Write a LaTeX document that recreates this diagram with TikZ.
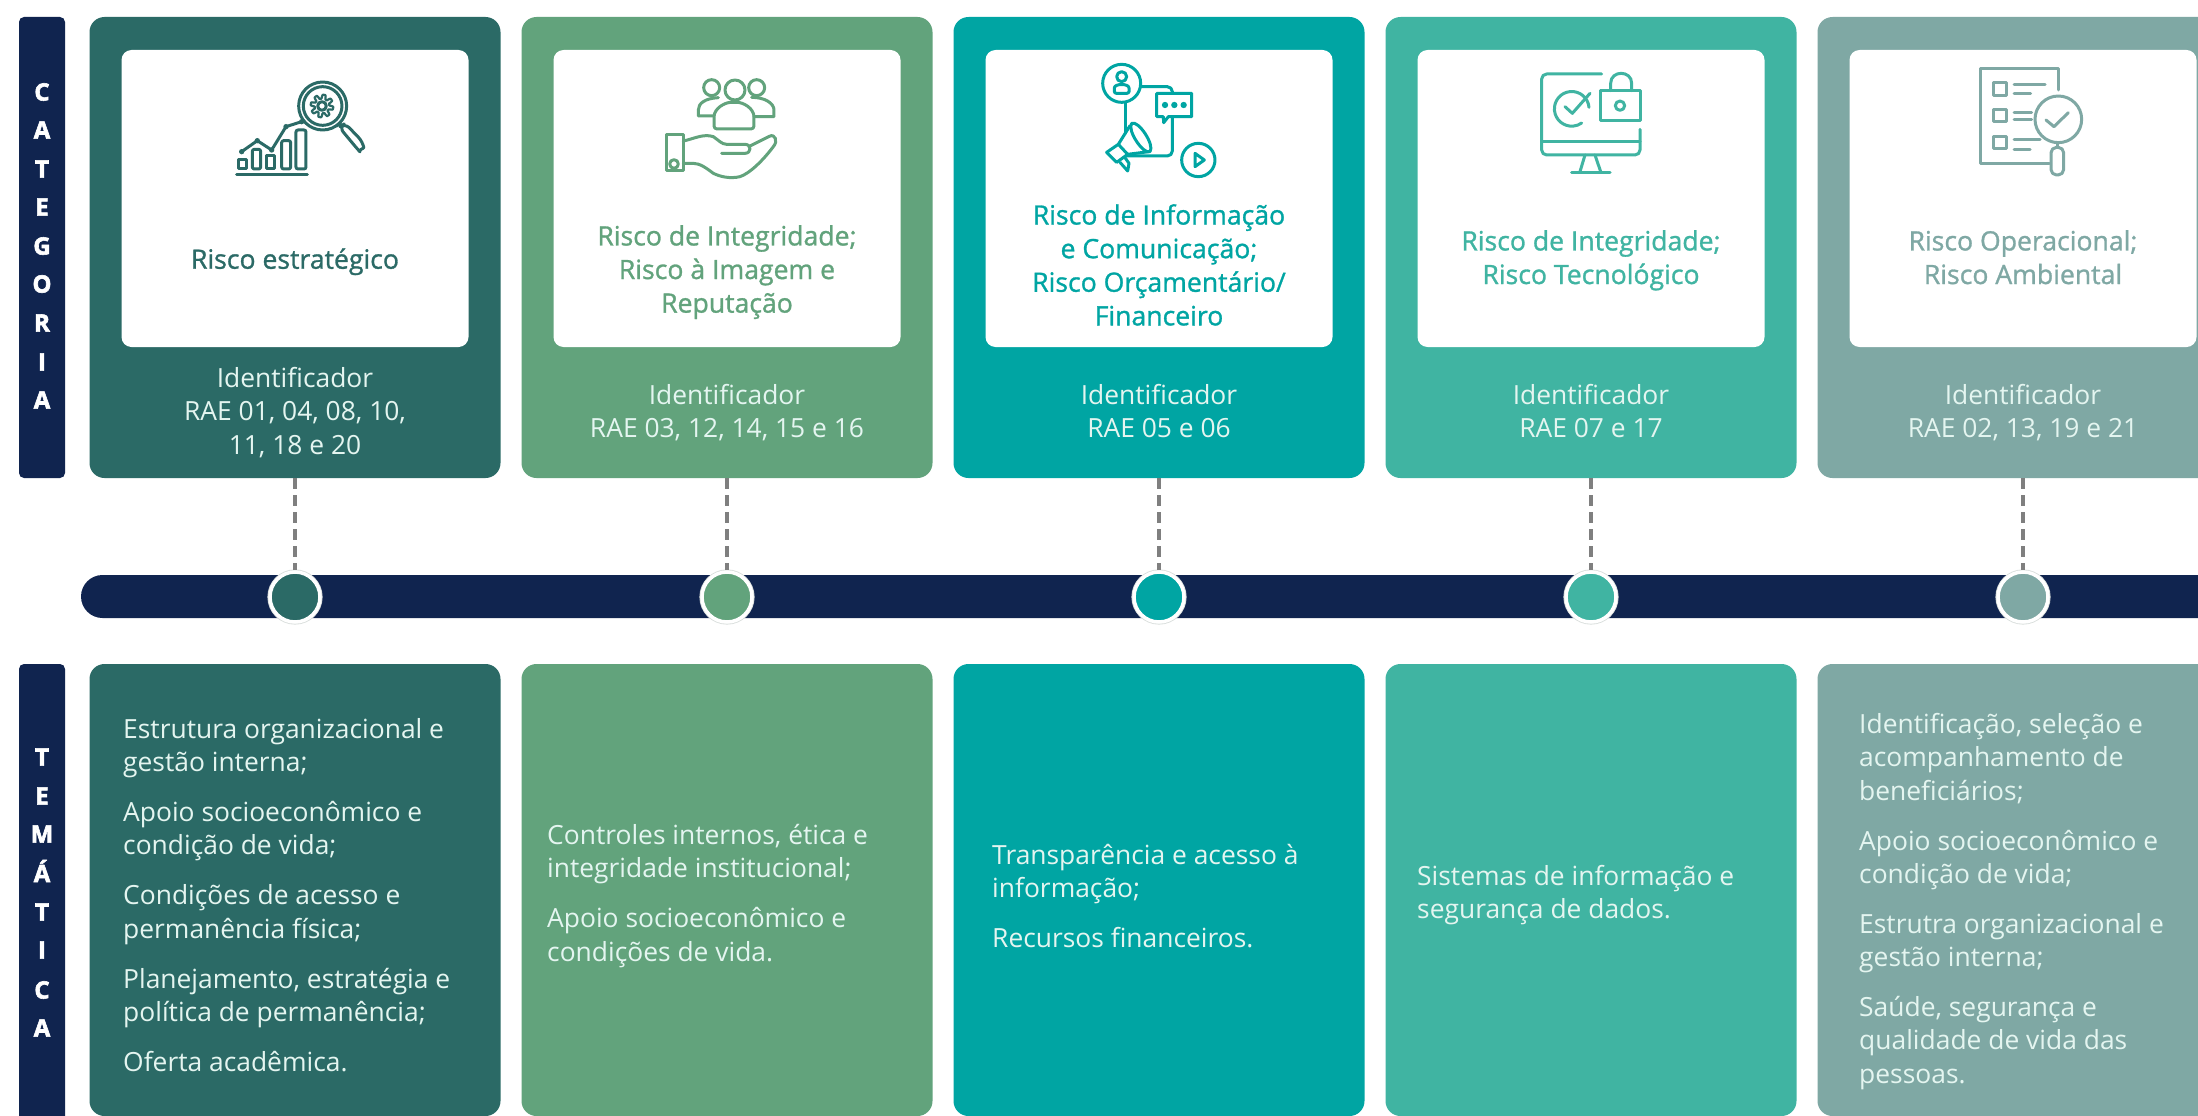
\documentclass[tikz,border=0pt]{standalone}
\usepackage{fontspec}
\setmainfont{Open Sans}
\newfontfamily\medfont[FakeBold=1.1]{Open Sans}
\newfontfamily\heavyfont[BoldFeatures={FakeBold=2.5}]{Open Sans}
\definecolor{navy}{HTML}{10244F}
\definecolor{cA}{HTML}{2B6A66}
\definecolor{cB}{HTML}{62A37C}
\definecolor{cC}{HTML}{00A5A3}
\definecolor{cD}{HTML}{40B4A2}
\definecolor{cE}{HTML}{7FA8A4}
\definecolor{pale}{HTML}{E4F5F0}
\definecolor{dashgray}{HTML}{7F7F7F}
\definecolor{ringgray}{HTML}{D9DEDC}
\tikzset{
  card/.style={rectangle,rounded corners=15pt,inner sep=0pt,minimum width=411pt},
  topcard/.style={card,minimum height=461pt},
  botcard/.style={card,minimum height=452pt},
  whitebox/.style={rectangle,rounded corners=10pt,inner sep=0pt,fill=white,minimum width=347pt,minimum height=297pt},
  sidebar/.style={rectangle,rounded corners=5pt,inner sep=0pt,fill=navy,minimum width=46pt},
  letter/.style={inner sep=0pt,text=white,font=\fontsize{24}{24}\selectfont\heavyfont\bfseries},
  txtbase/.style={inner sep=0pt,execute at begin node=\strut,font=\fontsize{26.4}{33.3}\selectfont},
  title/.style={txtbase,anchor=north,align=center,font=\fontsize{26.6}{33.6}\selectfont\medfont},
  ident/.style={txtbase,anchor=north,align=center,text=pale},
  theme/.style={txtbase,anchor=north west,align=left,text=pale},
  link/.style={draw=dashgray,line width=4.5pt,dash pattern=on 11pt off 6pt},
  dot/.style={circle,inner sep=0pt,minimum size=50pt,draw=white,line width=3.5pt},
  ico/.style={line width=3pt,line cap=round,line join=round},
  icon/.style={shift={#1},x=0.3333pt,y=-0.3333pt},
}
\begin{document}
\begin{tikzpicture}[x=1pt,y=-1pt]
\useasboundingbox (0,0) rectangle (2198,1116);
\clip (0,0) rectangle (2198,1116);
\fill[white] (0,0) rectangle (2198,1116);
% side bars
\node[sidebar,minimum height=461pt] (barcat) at (42,247.5) {};
\node[sidebar,minimum height=480pt] (bartem) at (42,904) {};
\foreach \l/\y/\n in {C/92/1,A/130/2,T/169/3,E/207/4,G/246/5,O/284/6,R/323/7,I/362/8,A/400/9}
  \node[letter] (catl\n) at (42,\y) {\l};
\foreach \l/\y/\n in {T/757/1,E/796/2,M/834/3,Á/871/4,T/912/5,I/950/6,C/990/7,A/1028/8}
  \node[letter] (teml\n) at (42,\y) {\l};
% timeline
\node[rectangle,rounded corners=21.5pt,inner sep=0pt,fill=navy,minimum width=2200pt,minimum height=43pt] (line) at (1181,596.5) {};
% columns
\foreach \cx/\c/\n in {295/cA/1,727/cB/2,1159/cC/3,1591/cD/4,2023/cE/5}{
  \node[topcard,fill=\c] (top\n) at (\cx,247.5) {};
  \node[whitebox] (white\n) at (\cx,198.5) {};
  \node[botcard,fill=\c] (bot\n) at (\cx,890) {};
  \fill[ringgray] (\cx,597) circle (27.6);
  \node[dot,fill=\c] (dot\n) at (\cx,597) {};
  \draw[link] (top\n.south) -- (dot\n.north);
}
% titles
\node[title,text=cA] (t1) at (295,245) {Risco estratégico};
\node[title,text=cB] (t2) at (727,225) {Risco de Integridade;\\Risco à Imagem e\\Reputação};
\node[title,text=cC] (t3) at (1159,204) {Risco de Informação\\e Comunicação;\\Risco Orçamentário/\\Financeiro};
\node[title,text=cD] (t4) at (1591,230) {Risco de Integridade;\\Risco Tecnológico};
\node[title,text=cE] (t5) at (2023,230) {Risco Operacional;\\Risco Ambiental};
% identifiers
\node[ident] (i1) at (295,367) {Identificador\\RAE 01, 04, 08, 10,\\11, 18 e 20};
\node[ident] (i2) at (727,384) {Identificador\\RAE 03, 12, 14, 15 e 16};
\node[ident] (i3) at (1159,384) {Identificador\\RAE 05 e 06};
\node[ident] (i4) at (1591,384) {Identificador\\RAE 07 e 17};
\node[ident] (i5) at (2023,384) {Identificador\\RAE 02, 13, 19 e 21};
% themes
\node[theme] (m1) at (123,718) {Estrutura organizacional e\\gestão interna;\\[16.7pt]Apoio socioeconômico e\\condição de vida;\\[16.7pt]Condições de acesso e\\permanência física;\\[16.7pt]Planejamento, estratégia e\\política de permanência;\\[16.7pt]Oferta acadêmica.};
\node[theme] (m2) at (547,824) {Controles internos, ética e\\integridade institucional;\\[16.7pt]Apoio socioeconômico e\\condições de vida.};
\node[theme] (m3) at (992,844) {Transparência e acesso à\\informação;\\[16.7pt]Recursos financeiros.};
\node[theme] (m4) at (1417,865) {Sistemas de informação e\\segurança de dados.};
\node[theme] (m5) at (1859,713) {Identificação, seleção e\\acompanhamento de\\beneficiários;\\[16.7pt]Apoio socioeconômico e\\condição de vida;\\[16.7pt]Estrutra organizacional e\\gestão interna;\\[16.7pt]Saúde, segurança e\\qualidade de vida das\\pessoas.};
% icon 1
\begin{scope}[icon={(220,70)},ico,draw=cA]
  \draw (50,313) -- (262,313);
  \draw (55,268) rectangle (80,297);
  \draw[rounded corners=2pt] (97,297) rectangle (122,238);
  \draw (140,258) rectangle (165,297);
  \draw[rounded corners=2pt] (185,297) rectangle (212,212);
  \draw[rounded corners=2pt] (228,297) rectangle (258,180);
  \draw (65,245) -- (112,212) -- (155,240) -- (198,170) -- (245,155);
  \foreach \p in {(65,245),(112,212),(155,240),(198,170),(245,155)} \fill[cA] \p circle (8);
  \draw (308,108) circle (72);
  \draw (308,108) circle (58);
  \draw[line width=2.2pt] plot[domain=0:360,samples=145,smooth] ({306+(28+6*max(-1,min(1,2*sin(8*\x))))*cos(\x)},{108+(28+6*max(-1,min(1,2*sin(8*\x))))*sin(\x)}) -- cycle;
  \draw (306,108) circle (13);
  \draw (350,168) -- (362,160);
  \draw[rounded corners=6pt] (358,172) -- (375,160) -- (428,215) .. controls (432,235) and (415,240) .. (408,232) -- cycle;
\end{scope}
% icon 2
\begin{scope}[icon={(650,65)},ico,draw=cB]
  \draw (185,68) circle (24);
  \draw (320,68) circle (24);
  \draw (255,75) circle (30);
  \draw[rounded corners=3pt] (192,192) -- (192,165) .. controls (192,130) and (225,112) .. (252,112) .. controls (280,112) and (312,130) .. (312,165) -- (312,192) -- cycle;
  \draw (190,153) -- (145,153) -- (145,135) .. controls (145,115) and (165,100) .. (205,98);
  \draw (312,155) -- (372,155) -- (372,135) .. controls (372,115) and (345,97) .. (305,97);
  \draw (48,208) rectangle (100,318);
  \draw (72,297) circle (13);
  \draw (100,228) .. controls (130,222) and (160,205) .. (190,215) .. controls (205,225) and (215,238) .. (230,238) -- (285,238) .. controls (305,238) and (305,265) .. (285,265) -- (215,265);
  \draw (300,243) -- (358,214) .. controls (375,205) and (385,228) .. (370,245) .. controls (340,285) and (300,325) .. (270,335) .. controls (240,342) and (210,335) .. (190,325) .. controls (170,310) and (150,295) .. (130,295) -- (100,295);
\end{scope}
% icon 3
\begin{scope}[icon={(1085,55)},ico,draw=cC]
  \draw (110,85) circle (57);
  \draw (110,65) circle (15);
  \draw[rounded corners=2pt] (88,115) -- (88,105) .. controls (88,85) and (132,85) .. (132,105) -- (132,115) -- cycle;
  \draw[rounded corners=5pt] (168,95) -- (262,95) -- (262,113);
  \draw (235,185) -- (215,185) -- (215,115) -- (320,115) -- (320,185) -- (250,185) -- (236,203) -- cycle;
  \foreach \a in {240,268,296} \fill[cC] (\a,150) circle (9.5);
  \draw (120,142) -- (120,235);
  \draw[rounded corners=5pt] (262,186) -- (262,303) -- (125,303);
  \draw (140,205) .. controls (160,195) and (210,270) .. (195,290) .. controls (175,300) and (125,225) .. (140,205);
  \draw (135,212) -- (100,268) -- (65,292) -- (95,322) -- (128,298) -- (192,290);
  \draw (105,322) -- (128,348) -- (132,325) -- (120,308);
  \draw (100,268) -- (128,298);
  \draw (340,315) circle (50);
  \draw (330,295) -- (358,315) -- (330,335) -- cycle;
\end{scope}
% icon 4
\begin{scope}[icon={(1510,60)},ico,draw=cD]
  \draw[rounded corners=5pt] (275,42) -- (95,42) -- (95,285) -- (390,285) -- (390,208);
  \draw (95,245) -- (390,245);
  \draw (225,285) -- (210,335);
  \draw (255,285) -- (272,335);
  \draw (185,337) -- (300,337);
  \draw (272,92) rectangle (390,182);
  \draw (302,92) -- (302,70) .. controls (302,30) and (365,30) .. (365,70) -- (365,92);
  \draw (330,137) circle (14);
  \draw (237,142) arc[start angle=-5,end angle=-305,radius=52];
  \draw (165,140) -- (187,160) -- (240,100);
\end{scope}
% icon 5
\begin{scope}[icon={(1940,60)},ico,draw=cE]
  \draw (355,90) -- (355,25) -- (120,25) -- (120,310) -- (328,310);
  \draw (160,68) rectangle (200,108);
  \draw (160,148) rectangle (200,185);
  \draw (160,230) rectangle (200,265);
  \draw (222,75) -- (315,75);
  \draw (222,100) -- (272,100);
  \draw (222,157) -- (275,157);
  \draw (222,180) -- (275,180);
  \draw (222,238) -- (300,238);
  \draw (222,268) -- (270,268);
  \draw (355,178) circle (70);
  \draw (318,180) -- (342,200) -- (385,158);
  \draw (352,248) -- (352,262);
  \draw[rounded corners=5.5pt] (333,262) rectangle (371,345);
\end{scope}
\end{tikzpicture}
\end{document}
